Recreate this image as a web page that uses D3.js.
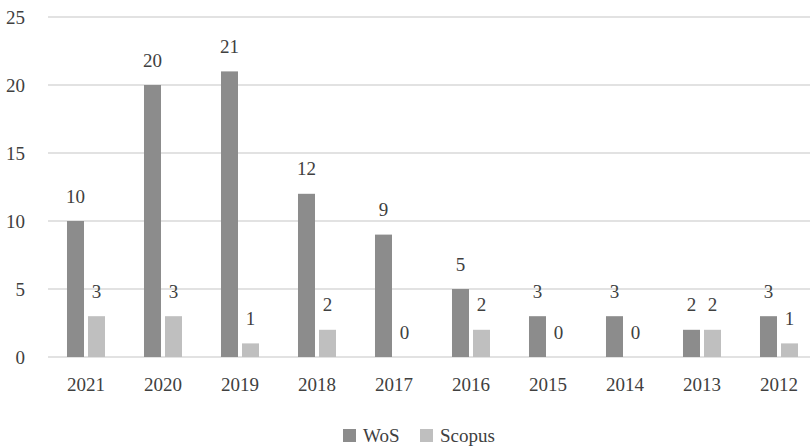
<!DOCTYPE html>
<html>
<head>
<meta charset="utf-8">
<script src="https://cdn.jsdelivr.net/npm/d3@7"></script>
<style>
  body { margin: 0; background: #fff; }
</style>
</head>
<body>
<svg id="chart"></svg>
<script>
// 数据
const years = ["2021", "2020", "2019", "2018", "2017", "2016", "2015", "2014", "2013", "2012"];
const series = ["WoS", "Scopus"];
const wos = [10, 20, 21, 12, 9, 5, 3, 3, 2, 3];
const scopus = [3, 3, 1, 2, 0, 2, 0, 0, 2, 1];
const yTicks = [0, 5, 10, 15, 20, 25];
const colors = ["#8c8c8c", "#bfbfbf"];
const FONT = "'Times New Roman', 'Liberation Serif', 'DejaVu Serif', 'Noto Serif', serif";

const W = 810, H = 446;
const svg = d3.select("#chart").attr("width", W).attr("height", H)
  .attr("font-family", FONT)
  .style("font-family", FONT);

// 比例尺
const x0 = d3.scaleBand().domain(years).range([47.5, 817.5]).padding(0);
const x1 = d3.scaleBand().domain(series).range([0, x0.bandwidth()])
  .paddingInner(4 / 21).paddingOuter(0.928);
const y = d3.scaleLinear().domain([0, 25]).range([357, 17]);

// 网格线
svg.append("g")
  .selectAll("line")
  .data(yTicks)
  .join("line")
    .attr("x1", 48).attr("x2", W)
    .attr("y1", d => y(d)).attr("y2", d => y(d))
    .attr("stroke", "#d9d9d9")
    .attr("stroke-width", 1.3);

// y 轴标签
svg.append("g")
  .selectAll("text")
  .data(yTicks)
  .join("text")
    .attr("x", 25)
    .attr("y", d => y(d))
    .attr("dy", "0.35em")
    .attr("text-anchor", "end")
    .attr("font-size", 19)
    .attr("fill", "#404040")
    .text(d => d);

// 柱子
const rows = years.map((yr, i) => ({ year: yr, vals: [wos[i], scopus[i]] }));
const groups = svg.append("g")
  .selectAll("g")
  .data(rows)
  .join("g")
    .attr("transform", d => `translate(${x0(d.year)},0)`);

groups.selectAll("rect")
  .data(d => d.vals.map((v, j) => ({ key: series[j], v })))
  .join("rect")
    .attr("x", d => x1(d.key))
    .attr("y", d => y(d.v))
    .attr("width", x1.bandwidth())
    .attr("height", d => y(0) - y(d.v))
    .attr("fill", (d, j) => colors[j]);

groups.selectAll("text")
  .data(d => d.vals.map((v, j) => ({ key: series[j], v })))
  .join("text")
    .attr("x", d => x1(d.key) + x1.bandwidth() / 2)
    .attr("y", d => y(d.v) - 25)
    .attr("dy", "0.35em")
    .attr("text-anchor", "middle")
    .attr("font-size", 19)
    .attr("fill", "#404040")
    .text(d => d.v);

// x 轴标签
svg.append("g")
  .selectAll("text")
  .data(years)
  .join("text")
    .attr("x", d => x0(d) + x0.bandwidth() / 2)
    .attr("y", 384)
    .attr("dy", "0.35em")
    .attr("text-anchor", "middle")
    .attr("font-size", 19)
    .attr("fill", "#404040")
    .text(d => d);

// 图例
const legendX = [343, 420];
const legend = svg.append("g")
  .selectAll("g")
  .data(series)
  .join("g")
    .attr("transform", (d, i) => `translate(${legendX[i]},429)`);
legend.append("rect")
  .attr("width", 13).attr("height", 13)
  .attr("fill", (d, i) => colors[i]);
legend.append("text")
  .attr("x", 20)
  .attr("y", 6.5)
  .attr("dy", "0.35em")
  .attr("font-size", 19)
  .attr("fill", "#404040")
  .text(d => d);
</script>
</body>
</html>
